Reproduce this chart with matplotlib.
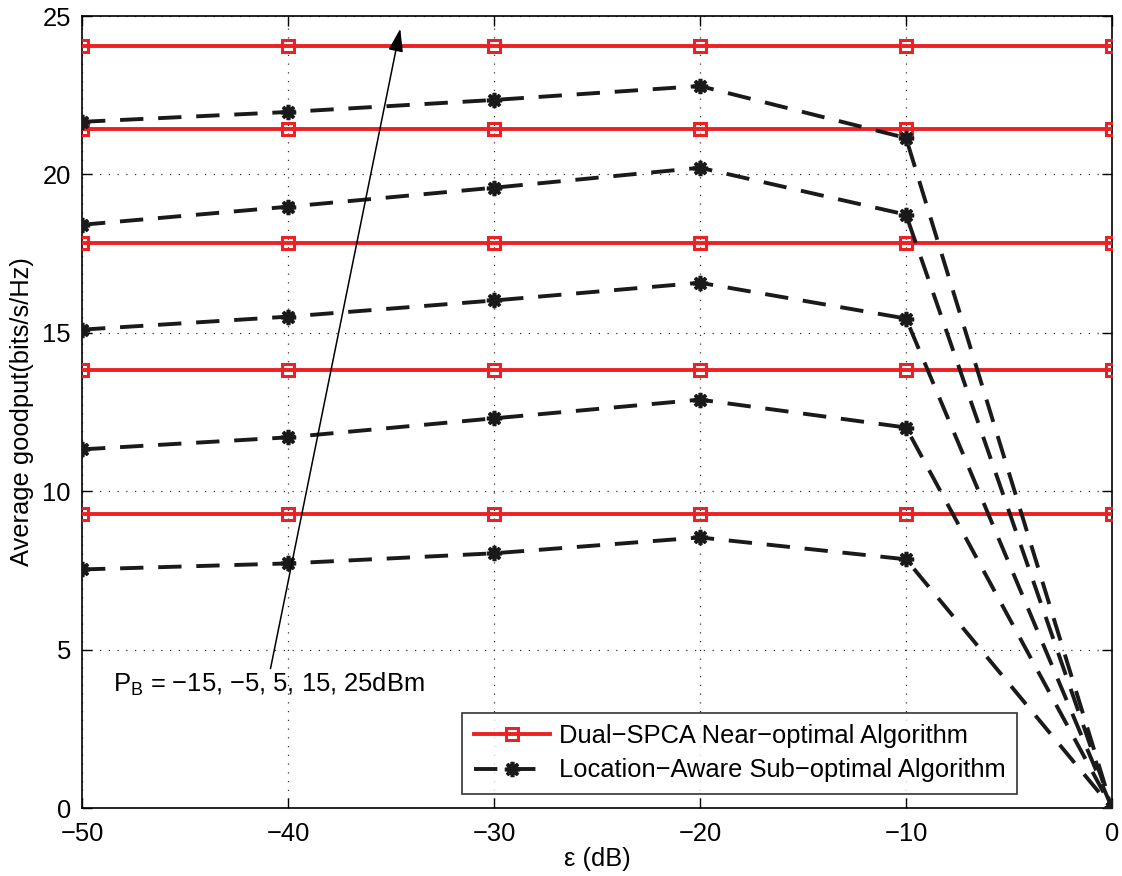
import matplotlib.pyplot as plt
from matplotlib.lines import Line2D

plt.rcParams["font.family"] = ["Liberation Sans", "DejaVu Sans"]

eps_db = [-50, -40, -30, -20, -10, 0]
power_dbm = [-15, -5, 5, 15, 25]

# Dual-SPCA goodput is flat over epsilon, one level per P_B
dual_spca = [9.28, 13.84, 17.82, 21.42, 24.06]

# Location-aware goodput per P_B, dropping to zero at 0 dB
loc_aware = [
    [7.53, 7.72, 8.04, 8.54, 7.85, 0.0],
    [11.32, 11.70, 12.30, 12.89, 12.01, 0.0],
    [15.10, 15.51, 16.02, 16.58, 15.45, 0.0],
    [18.41, 18.98, 19.58, 20.21, 18.73, 0.0],
    [21.66, 21.97, 22.35, 22.79, 21.15, 0.0],
]

red = "#ED2024"
dark = "#1a1a1a"
dash = (0, (6, 3.8))
fs = 18.4

fig = plt.figure(figsize=(11.22, 8.76), dpi=100, facecolor="white")
ax = fig.add_axes([82 / 1122, 1 - 808 / 876, 1030 / 1122, 792 / 876])

for level in dual_spca:
    ax.plot(eps_db, [level] * len(eps_db), color=red, lw=2.8, marker="s",
            ms=9, mfc="none", mec=red, mew=2.2, zorder=3)

for series in loc_aware:
    ax.plot(eps_db, series, color=dark, lw=2.8, ls=dash,
            marker=(8, 2, 0), ms=11, mec=dark, mew=2.6, zorder=4)

ax.set_xlim(-50, 0)
ax.set_ylim(0, 25)
ax.set_xticks(eps_db)
ax.set_xticklabels(["\u221250", "\u221240", "\u221230", "\u221220", "\u221210", "0"])
ax.set_yticks([0, 5, 10, 15, 20, 25])
ax.tick_params(direction="in", length=7, width=1, labelsize=fs, top=True, right=True)
ax.tick_params(axis="x", pad=10)
ax.tick_params(axis="y", pad=8)
ax.grid(True, color="#333333", ls=(0, (1, 6)), lw=0.9)
for sp in ax.spines.values():
    sp.set_linewidth(1.2)

ax.set_xlabel("\u03b5 (dB)", fontsize=fs, labelpad=1)
ax.set_ylabel("Average goodput(bits/s/Hz)", fontsize=fs, labelpad=6)

ax.annotate("", xy=(-34.55, 24.6), xytext=(-40.85, 4.4),
            arrowprops=dict(arrowstyle="-|>,head_length=1.4,head_width=0.45",
                            color="black", lw=1.1, shrinkA=0, shrinkB=0), zorder=5)
ax.text(-48.5, 3.9, "P$_\\mathregular{B}$ = \u221215, \u22125, 5, 15, 25dBm",
        fontsize=fs, va="center", ha="left")

handles = [
    Line2D([], [], color=red, lw=2.8, marker="s", ms=9, mfc="none", mec=red, mew=2.2),
    Line2D([], [], color=dark, lw=2.8, ls=dash, marker=(8, 2, 0), ms=11, mew=2.6),
]
leg = ax.legend(handles, ["Dual\u2212SPCA Near\u2212optimal Algorithm",
                          "Location\u2212Aware Sub\u2212optimal Algorithm"],
                loc="lower right", bbox_to_anchor=(0.908, 0.0177), borderaxespad=0,
                fontsize=fs, frameon=True, fancybox=False, edgecolor="black",
                handlelength=3.0, borderpad=0.45, labelspacing=0.4, handletextpad=0.35)
leg.get_frame().set_linewidth(1.2)

fig.savefig("out.png", dpi=100, facecolor="white")
